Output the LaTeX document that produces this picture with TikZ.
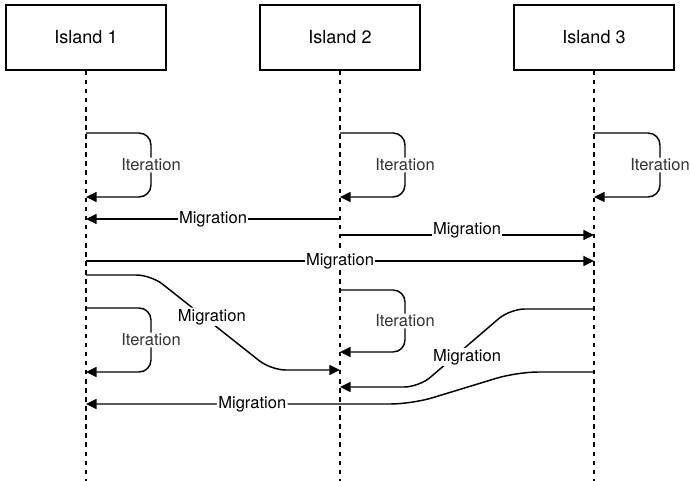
\documentclass[tikz,border=0pt]{standalone}
\usepackage{fontspec}
\setmainfont{TeX Gyre Heros}
\usetikzlibrary{
    arrows.meta,
    positioning
}

\begin{document}
\begin{tikzpicture}[
    x=0.75pt,
    y=-0.75pt,
    every node/.style={
        font=\fontsize{12.4pt}{14pt}\selectfont
    },
    island/.style={
        draw,
        line width=1.1pt,
        minimum width=120pt,
        minimum height=48.75pt,
        inner sep=0pt,
        font=\fontsize{13.5pt}{16pt}\selectfont
    },
    lifeline/.style={
        line width=1pt,
        dash pattern=on 3.4pt off 3.4pt
    },
    msg/.style={
        line width=1.1pt,
        -{Triangle[length=8pt,width=7.5pt]}
    },
    loopmsg/.style={msg, rounded corners=9pt},
    migmsg/.style={msg, rounded corners=11pt},
    itlabel/.style={fill=white, inner sep=1pt, text=black!80},
    miglabel/.style={fill=white, inner sep=1pt}
]

    \useasboundingbox (0,0) rectangle (690,481);

    % -------------------------------------------------------
    % Islands and their lifelines
    % -------------------------------------------------------
    \node[island] (isl1) at (86,37.5)  {Island 1};
    \node[island] (isl2) at (340,37.5) {Island 2};
    \node[island] (isl3) at (594,37.5) {Island 3};

    \coordinate (end1) at (86,481);
    \coordinate (end2) at (340,481);
    \coordinate (end3) at (594,481);

    \draw[lifeline] (isl1) -- (end1);
    \draw[lifeline] (isl2) -- (end2);
    \draw[lifeline] (isl3) -- (end3);

    % -------------------------------------------------------
    % Message end points on the lifelines
    % -------------------------------------------------------
    \coordinate (it1a) at (86,133);
    \coordinate (it1b) at (86,197);
    \coordinate (it2a) at (340,133);
    \coordinate (it2b) at (340,197);
    \coordinate (it3a) at (594,133);
    \coordinate (it3b) at (594,197);

    \coordinate (mg1a) at (340,219);
    \coordinate (mg1b) at (86,219);
    \coordinate (mg2a) at (340,235);
    \coordinate (mg2b) at (594,235);
    \coordinate (mg3a) at (86,261);
    \coordinate (mg3b) at (594,261);

    \coordinate (mg4a) at (86,275);
    \coordinate (mg4b) at (340,370);
    \coordinate (it4a) at (86,308);
    \coordinate (it4b) at (86,372);
    \coordinate (it5a) at (340,290);
    \coordinate (it5b) at (340,352);
    \coordinate (mg5a) at (594,309);
    \coordinate (mg5b) at (340,387);
    \coordinate (mg6a) at (594,372);
    \coordinate (mg6b) at (86,404);

    % -------------------------------------------------------
    % First generation
    % -------------------------------------------------------
    \draw[loopmsg] (it1a) -- ++(65,0)
        |- node[pos=0.25, itlabel] {Iteration} (it1b);
    \draw[loopmsg] (it2a) -- ++(65,0)
        |- node[pos=0.25, itlabel] {Iteration} (it2b);
    \draw[loopmsg] (it3a) -- ++(66,0)
        |- node[pos=0.25, itlabel] {Iteration} (it3b);

    \draw[msg] (mg1a) -- node[miglabel] {Migration} (mg1b);
    \draw[msg] (mg2a) -- node[miglabel, yshift=3.75pt] {Migration} (mg2b);
    \draw[msg] (mg3a) -- node[miglabel] {Migration} (mg3b);

    % -------------------------------------------------------
    % Second generation
    % -------------------------------------------------------
    \draw[migmsg] (mg4a) -- ++(65,0)
        -- node[pos=0.44, miglabel, xshift=6pt] {Migration} ++(120,95)
        -- (mg4b);

    \draw[loopmsg] (it4a) -- ++(65,0)
        |- node[pos=0.25, itlabel] {Iteration} (it4b);
    \draw[loopmsg] (it5a) -- ++(65,0)
        |- node[pos=0.25, itlabel] {Iteration} (it5b);

    \draw[migmsg] (mg5a) -- ++(-84,0)
        -- node[pos=0.615, miglabel, xshift=9.75pt] {Migration} ++(-91,78)
        -- (mg5b);

    \draw[migmsg, rounded corners=16pt] (mg6a) -- ++(-77,0)
        -- ++(-105,32)
        -- node[pos=0.49, miglabel] {Migration} (mg6b);

\end{tikzpicture}
\end{document}
